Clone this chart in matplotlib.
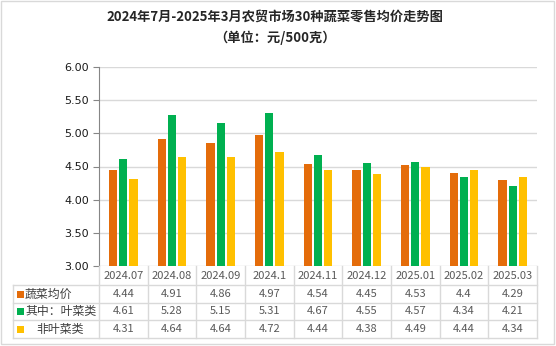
import matplotlib.pyplot as plt
import matplotlib.transforms as mtransforms
from matplotlib.patches import Rectangle
from matplotlib.ticker import FormatStrFormatter
import numpy as np

plt.rcParams['font.family'] = ['Noto Sans CJK SC', 'DejaVu Sans']

months = ['2024.07', '2024.08', '2024.09', '2024.1', '2024.11',
          '2024.12', '2025.01', '2025.02', '2025.03']
avg = [4.44, 4.91, 4.86, 4.97, 4.54, 4.45, 4.53, 4.4, 4.29]
leafy = [4.61, 5.28, 5.15, 5.31, 4.67, 4.55, 4.57, 4.34, 4.21]
non_leafy = [4.31, 4.64, 4.64, 4.72, 4.44, 4.38, 4.49, 4.44, 4.34]
labels = ['蔬菜均价', '其中：叶菜类', '非叶菜类']
colors = ['#E46C0A', '#00B050', '#FFC000']

W, H = 556, 346
fig = plt.figure(figsize=(W / 100, H / 100), dpi=100)
# pixel coords, y pointing down
px = mtransforms.Affine2D().scale(1 / W, -1 / H).translate(0, 1) + fig.transFigure

ax = fig.add_axes([99 / W, 1 - 266 / H, 438 / W, 199 / H])
x = np.arange(len(months))
series = [avg, leafy, non_leafy]
for k, (vals, c) in enumerate(zip(series, colors)):
    ax.bar(x + (k - 1) * 0.21, vals, width=0.168, color=c, zorder=3)

ax.set_xlim(-0.5, len(months) - 0.5)
ax.set_ylim(3, 6)
ax.set_yticks(np.arange(3, 6.01, 0.5))
ax.yaxis.set_major_formatter(FormatStrFormatter('%.2f'))
ax.grid(axis='y', color='#D9D9D9', lw=1, zorder=0)
ax.set_xticks([])
for s in ['top', 'right', 'bottom']:
    ax.spines[s].set_visible(False)
ax.spines['left'].set_color('#868686')
ax.tick_params(axis='y', length=4, color='#868686', labelsize=8, pad=3)
for t in ax.get_yticklabels():
    t.set_fontfamily('DejaVu Sans')
    t.set_color('#1a1a1a')

# data table under the plot
grid_c = '#D9D9D9'
col = mtransforms.blended_transform_factory(ax.transData, px)
rows_y = [285, 303, 320, 338]
for yy in rows_y:
    fig.add_artist(plt.Line2D([12.7, 537], [yy, yy], transform=px, color=grid_c, lw=1))
fig.add_artist(plt.Line2D([12.7, 12.7], [285, 338], transform=px, color=grid_c, lw=1))
for b in np.arange(len(months) + 1) - 0.5:
    fig.add_artist(plt.Line2D([b, b], [266, 338], transform=col, color=grid_c, lw=1))

for i, m in enumerate(months):
    fig.text(i, 276, m, transform=col, ha='center', va='center',
             fontsize=8, color='#595959')
    for r, vals in enumerate(series):
        fig.text(i, (rows_y[r] + rows_y[r + 1]) / 2, f'{vals[i]:g}', transform=col,
                 ha='center', va='center', fontsize=8, color='#595959')

label_x = [25, 25, 36]
for r, (lab, c) in enumerate(zip(labels, colors)):
    yc = (rows_y[r] + rows_y[r + 1]) / 2
    fig.add_artist(Rectangle((17, yc - 3.5), 6.5, 7, transform=px, color=c, lw=0))
    fig.text(label_x[r], yc, lab, transform=px, ha='left', va='center',
             fontsize=8.6, color='#404040')

fig.text(275, 17, '2024年7月-2025年3月农贸市场30种蔬菜零售均价走势图', transform=px,
         ha='center', va='center', fontsize=9.5, fontweight='bold', color='#262626')
fig.text(275, 38, '（单位：元/500克）', transform=px,
         ha='center', va='center', fontsize=9.5, fontweight='bold', color='#262626')

fig.add_artist(Rectangle((1, 1), 553, 343, transform=px, fill=False,
                         edgecolor='#D9D9D9', lw=1))

fig.savefig('out.png', dpi=100)
